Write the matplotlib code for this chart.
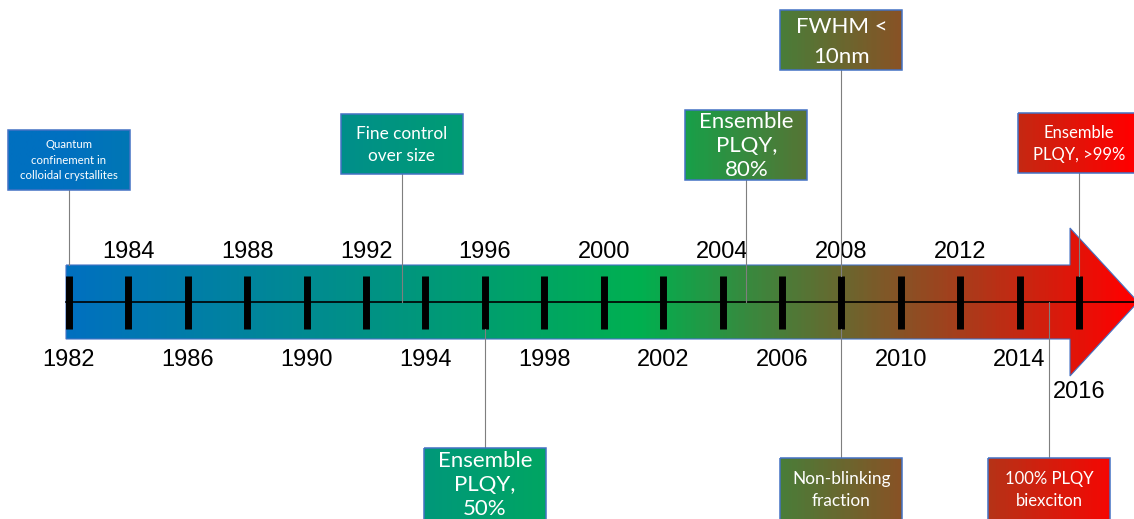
import matplotlib.pyplot as plt
import numpy as np
from matplotlib.colors import LinearSegmentedColormap
from matplotlib.patches import Polygon, Rectangle

# timeline data
tick_years = list(range(1982, 2017, 2))
labels_top = [1984, 1988, 1992, 1996, 2000, 2004, 2008, 2012]
labels_bottom = [1982, 1986, 1990, 1994, 1998, 2002, 2006, 2010, 2014]
label_last = 2016

event_years = [1982, 1993.2, 2004.8, 2008, 2016, 1996, 2008, 2015]
event_text = [
    "Quantum\nconfinement in\ncolloidal crystallites",
    "Fine control\nover size",
    "Ensemble\nPLQY,\n80%",
    "FWHM <\n10nm",
    "Ensemble\nPLQY, >99%",
    "Ensemble\nPLQY,\n50%",
    "Non-blinking\nfraction",
    "100% PLQY\nbiexciton",
]

# layout (y in pixels from the top)
box_top = [130, 114, 110, 10, 113, 448, 458, 458]
box_h = [60, 60, 70, 60, 60, 74, 64, 64]
box_fs = [8.2, 12.4, 16, 16, 12, 16, 12.4, 12]
box_ls = [1.45, 1.45, 1.22, 1.6, 1.5, 1.22, 1.45, 1.45]
text_y = [160, 145, 146, 42, 144, 485, 490, 490]
conn_end = [265, 302, 302, 276, 276, 329, 329, 302]

W, H = 1134, 519
px_per_year = (1079 - 69) / 34
x0 = 1982 - 69 / px_per_year
x1 = 1982 + (W - 69) / px_per_year
box_w = 122 / px_per_year

fig = plt.figure(figsize=(W / 100, H / 100), dpi=100)
ax = fig.add_axes([0, 0, 1, 1])
ax.axis("off")

cmap = LinearSegmentedColormap.from_list(
    "tl", [(0, "#0070C0"), (66 / W, "#0070C0"), (640 / W, "#00B050"), (1, "#FF0000")])
grad = np.linspace(0, 1, 600).reshape(1, -1)


def fill_gradient(patch, z):
    ax.add_patch(patch)
    im = ax.imshow(grad, cmap=cmap, extent=(x0, x1, H, 0), aspect="auto",
                   zorder=z, interpolation="bilinear")
    im.set_clip_path(patch)


# arrow
bx0 = 1982 - 3 / px_per_year
hb = 1982 + (1070 - 69) / px_per_year
tip = 1982 + (1138 - 69) / px_per_year
arrow = Polygon([(bx0, 265), (hb, 265), (hb, 228), (tip, 302), (hb, 376),
                 (hb, 339), (bx0, 339)], closed=True, facecolor="none",
                edgecolor="#4472C4", lw=0.8, zorder=2)
fill_gradient(arrow, 1)

ax.plot([bx0, x1], [302, 302], color="black", lw=1.2, zorder=3)
for y in tick_years:
    ax.plot([y, y], [276, 329], color="black", lw=5, solid_capstyle="butt", zorder=4)

for y in labels_top:
    ax.text(y, 252, str(y), ha="center", va="center", fontsize=17,
            family="Liberation Sans")
for y in labels_bottom:
    ax.text(y, 360, str(y), ha="center", va="center", fontsize=17,
            family="Liberation Sans")
ax.text(label_last, 392, str(label_last), ha="center", va="center", fontsize=17,
        family="Liberation Sans")

# event boxes
for i, yr in enumerate(event_years):
    top, h = box_top[i], box_h[i]
    if top < 302:
        ax.plot([yr, yr], [top + h, conn_end[i]], color="#7f7f7f", lw=0.8, zorder=5)
    else:
        ax.plot([yr, yr], [conn_end[i], top], color="#7f7f7f", lw=0.8, zorder=5)
    rect = Rectangle((yr - box_w / 2, top), box_w, h, facecolor="none",
                     edgecolor="#4472C4", lw=1.1, zorder=7)
    fill_gradient(rect, 6)
    ax.text(yr, text_y[i], event_text[i], ha="center", va="center", color="white",
            fontsize=box_fs[i], family="Lato", linespacing=box_ls[i], zorder=8)

ax.set_xlim(x0, x1)
ax.set_ylim(H, 0)
fig.savefig("out.png", dpi=100)
